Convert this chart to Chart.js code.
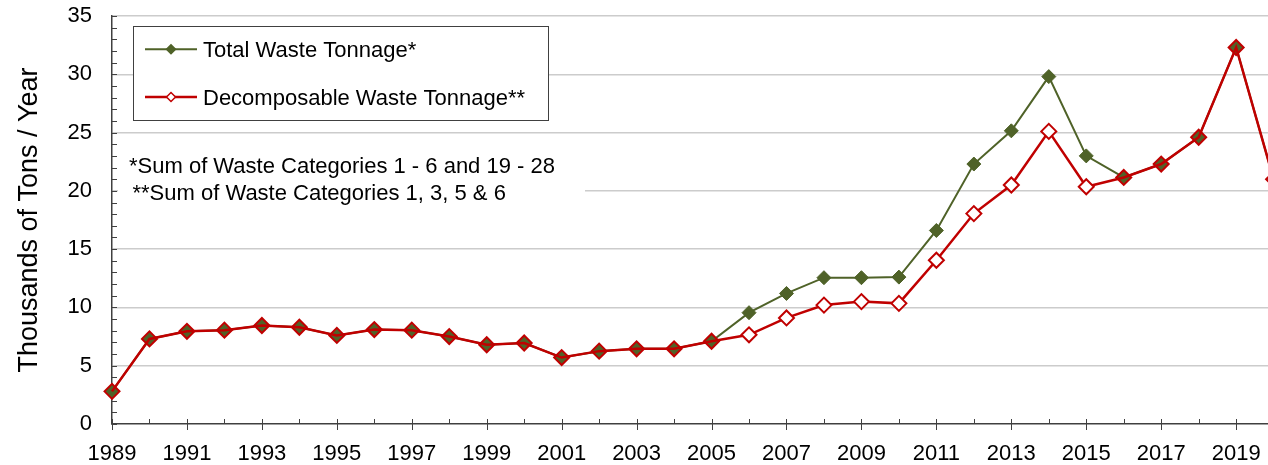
<!DOCTYPE html>
<html>
<head>
<meta charset="utf-8">
<script src="https://cdn.jsdelivr.net/npm/chart.js@4.4.1/dist/chart.umd.min.js"></script>
<style>
  html, body { margin: 0; padding: 0; background: #fff; }
  #wrap { width: 1268px; height: 465px; }
</style>
</head>
<body>
<div id="wrap"><canvas id="wasteChart" width="1268" height="465"></canvas></div>
<script>
const years = [1989, 1990, 1991, 1992, 1993, 1994, 1995, 1996, 1997, 1998, 1999, 2000, 2001, 2002, 2003, 2004,
  2005, 2006, 2007, 2008, 2009, 2010, 2011, 2012, 2013, 2014, 2015, 2016, 2017, 2018, 2019, 2020];
const totalWaste = [2.8, 7.3, 7.95, 8.05, 8.45, 8.3, 7.6, 8.1, 8.05, 7.5, 6.8, 6.95, 5.7, 6.25, 6.45, 6.45,
  7.1, 9.55, 11.2, 12.55, 12.55, 12.6, 16.6, 22.3, 25.15, 29.8, 23.0, 21.15, 22.3, 24.6, 32.3, 21.0];
const decompWaste = [2.8, 7.3, 7.95, 8.05, 8.45, 8.3, 7.6, 8.1, 8.05, 7.5, 6.8, 6.95, 5.7, 6.25, 6.45, 6.45,
  7.1, 7.65, 9.1, 10.2, 10.5, 10.35, 14.05, 18.05, 20.5, 25.1, 20.35, 21.15, 22.3, 24.6, 32.3, 21.0];
const seriesLabels = ["Total Waste Tonnage*", "Decomposable Waste Tonnage**"];
const footnotes = ["*Sum of Waste Categories 1 - 6 and 19 - 28", "**Sum of Waste Categories 1, 3, 5 & 6"];
const yTitle = "Thousands of Tons / Year";

const FONT = 'Arial, "Liberation Sans", sans-serif';
const GREEN = "#4f6228";
const RED = "#c00000";
const AXIS = "#404040";

// tick marks in Excel style: y minor ticks inside, x minor inside / major crossing
const tickMarks = {
  id: "tickMarks",
  beforeDatasetsDraw(chart) {
    const { ctx, chartArea, scales } = chart;
    ctx.save();
    ctx.strokeStyle = AXIS;
    ctx.lineWidth = 1;
    ctx.beginPath();
    for (let v = 0; v <= 35; v++) {
      const y = Math.round(scales.y.getPixelForValue(v)) + 0.5;
      ctx.moveTo(chartArea.left, y);
      ctx.lineTo(chartArea.left + 5, y);
    }
    for (let yr = years[0]; yr <= 2019; yr++) {
      const x = Math.round(scales.x.getPixelForValue(yr)) + 0.5;
      ctx.moveTo(x, chartArea.bottom - 5);
      ctx.lineTo(x, chartArea.bottom + (yr % 2 === 1 ? 6 : 0));
    }
    ctx.stroke();
    ctx.restore();
  },
};

// boxed legend and the footnote block inside the plot
const legendBox = {
  id: "legendBox",
  afterDraw(chart) {
    const { ctx } = chart;
    ctx.save();
    ctx.fillStyle = "#fff";
    ctx.fillRect(133, 26, 415, 94);
    ctx.strokeStyle = AXIS;
    ctx.lineWidth = 1;
    ctx.strokeRect(133.5, 26.5, 415, 94);

    const rows = [56.7, 104.5];
    chart.data.datasets.forEach((ds, i) => {
      const ly = rows[i] - 7.5;
      ctx.strokeStyle = ds.borderColor;
      ctx.lineWidth = ds.borderWidth;
      ctx.beginPath();
      ctx.moveTo(145, ly);
      ctx.lineTo(197, ly);
      ctx.stroke();
      ctx.beginPath();
      ctx.moveTo(171 - 4.5, ly);
      ctx.lineTo(171, ly - 4.5);
      ctx.lineTo(171 + 4.5, ly);
      ctx.lineTo(171, ly + 4.5);
      ctx.closePath();
      ctx.fillStyle = i === 0 ? GREEN : "#fff";
      ctx.fill();
      ctx.lineWidth = 1.5;
      ctx.stroke();
      ctx.fillStyle = "#000";
      ctx.font = "22px " + FONT;
      ctx.textBaseline = "alphabetic";
      ctx.fillText(ds.label, 203, rows[i]);
    });

    ctx.fillStyle = "#fff";
    ctx.fillRect(118, 148, 467, 62);
    ctx.fillStyle = "#000";
    ctx.font = "22px " + FONT;
    ctx.fillText(footnotes[0], 129, 173.3);
    ctx.fillText(footnotes[1], 132.5, 200.3);
    ctx.restore();
  },
};

const ctx = document.getElementById("wasteChart").getContext("2d");
new Chart(ctx, {
  type: "line",
  data: {
    labels: years,
    datasets: [
      {
        label: seriesLabels[0],
        data: years.map((yr, i) => ({ x: yr, y: totalWaste[i] })),
        borderColor: GREEN,
        backgroundColor: GREEN,
        borderWidth: 2,
        pointStyle: "rectRot",
        pointRadius: 7,
        pointBackgroundColor: GREEN,
        pointBorderColor: GREEN,
        pointBorderWidth: 1,
        tension: 0,
        clip: false,
        order: 2,
      },
      {
        label: seriesLabels[1],
        data: years.map((yr, i) => ({ x: yr, y: decompWaste[i] })),
        borderColor: RED,
        backgroundColor: RED,
        borderWidth: 2.5,
        pointStyle: "rectRot",
        pointRadius: 7.5,
        pointBackgroundColor: decompWaste.map((v, i) => (v === totalWaste[i] ? "rgba(0,0,0,0)" : "#fff")),
        pointBorderColor: RED,
        pointBorderWidth: 2,
        tension: 0,
        clip: false,
        order: 1,
      },
    ],
  },
  options: {
    responsive: false,
    animation: false,
    devicePixelRatio: 1,
    layout: { autoPadding: false, padding: { top: 16, left: 0, right: 0, bottom: 0 } },
    plugins: { legend: { display: false }, tooltip: { enabled: false } },
    scales: {
      x: {
        type: "linear",
        min: 1989,
        max: 2019.85,
        grid: { display: false },
        border: { display: true, color: AXIS, width: 1.5 },
        ticks: {
          stepSize: 1,
          autoSkip: false,
          includeBounds: false,
          maxRotation: 0,
          padding: 9,
          color: "#000",
          font: { family: FONT, size: 22 },
          callback: (v) => (v % 2 === 1 ? String(v) : ""),
        },
        afterFit: (scale) => {
          scale.height = 41;
          scale.paddingLeft = 0;
          scale.paddingRight = 0;
        },
      },
      y: {
        min: 0,
        max: 35,
        grid: {
          color: (c) => (c.tick && c.tick.value === 0 ? "rgba(0,0,0,0)" : "#cccccc"),
          lineWidth: 1.5,
          drawTicks: false,
        },
        border: { display: true, color: AXIS, width: 1.5 },
        ticks: {
          stepSize: 5,
          padding: 20,
          color: "#000",
          font: { family: FONT, size: 22 },
        },
        title: {
          display: true,
          text: yTitle,
          color: "#000",
          font: { family: FONT, size: 27 },
          padding: { top: 13, bottom: 0 },
        },
        afterFit: (scale) => {
          scale.width = 112;
          scale.paddingTop = 0;
          scale.paddingBottom = 0;
        },
      },
    },
  },
  plugins: [tickMarks, legendBox],
});
</script>
</body>
</html>
